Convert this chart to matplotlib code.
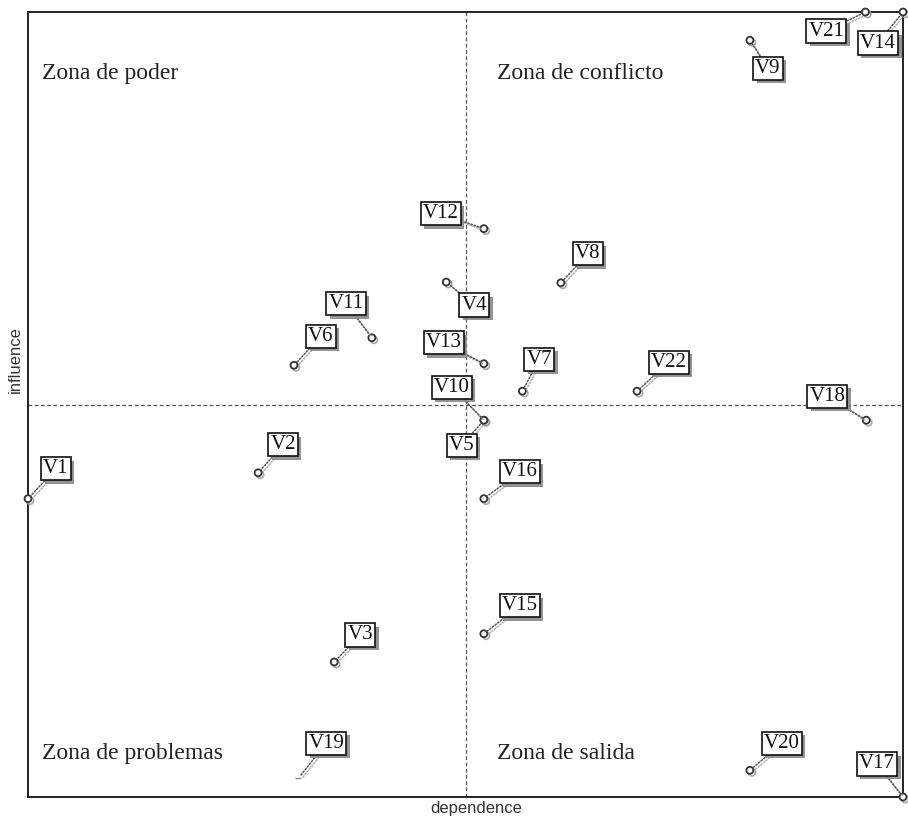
import matplotlib as mpl
import matplotlib.pyplot as plt
import matplotlib.patheffects as pe

mpl.rcParams['font.family'] = 'Liberation Serif'

# variables: dependence (x) and influence (y), scaled 0-100
labels = ["V1", "V2", "V3", "V4", "V5", "V6", "V7", "V8", "V9", "V10", "V11",
          "V12", "V13", "V14", "V15", "V16", "V17", "V18", "V19", "V20", "V21", "V22"]
dependence = [0.0, 26.3, 35.0, 47.8, 52.1, 30.4, 56.5, 60.9, 82.5, 52.1, 39.3,
              52.1, 52.1, 100.0, 52.1, 52.1, 100.0, 95.8, 30.9, 82.5, 95.7, 69.6]
influence = [38.0, 41.3, 17.2, 65.6, 48.0, 55.0, 51.7, 65.5, 96.4, 48.0, 58.5,
             72.4, 55.2, 100.0, 20.8, 38.0, 0.0, 48.0, 2.4, 3.4, 100.0, 51.7]

# label offsets from the point, in pixels (x right, y up)
offsets = [(28, 30), (25, 28), (26, 27), (28, -23), (-22, -25), (27, 29), (17, 32),
           (27, 29), (18, -28), (-32, 33), (-26, 34), (-43, 15), (-40, 21), (-25, -31),
           (36, 28), (36, 27), (-26, 33), (-39, 24), (28, 35), (32, 27), (-39, -19), (32, 29)]

zones = ["Zona de poder", "Zona de conflicto", "Zona de problemas", "Zona de salida"]

fig = plt.figure(figsize=(9.08, 8.19), dpi=100)
ax = fig.add_axes([28/908, 1-797/819, 875/908, 785/819])
ax.set_xlim(0, 100)
ax.set_ylim(0, 100)
ax.set_xticks([])
ax.set_yticks([])
for s in ax.spines.values():
    s.set_linewidth(1.4)
    s.set_color('#222222')

ax.axvline(50, color='#555555', lw=0.9, ls=(0, (3, 2)), zorder=1)
ax.axhline(50, color='#555555', lw=0.9, ls=(0, (3, 2)), zorder=1)

shadow = [pe.SimpleLineShadow(offset=(1.5, -1.5), shadow_color='#999999', alpha=0.8), pe.Normal()]

for lab, x, y, off in zip(labels, dependence, influence, offsets):
    if lab == "V19":
        # faint point in the original
        ax.plot(x, y, marker='_', color='#888888', ms=4, clip_on=False, zorder=3)
    else:
        ax.plot(x, y, marker='o', ms=5, mfc='white', mec='#333333', mew=1.3,
                clip_on=False, zorder=3, path_effects=shadow)
    t = ax.annotate(lab, (x, y), xytext=off, textcoords='offset pixels',
                    ha='center', va='center', fontsize=15, color='#111111',
                    bbox=dict(boxstyle='square,pad=0.1', fc='white', ec='#111111', lw=1.2),
                    arrowprops=dict(arrowstyle='-', ls=(0, (1, 1.2)), color='#555555', lw=1.1,
                                    shrinkA=0, shrinkB=3, path_effects=shadow),
                    annotation_clip=False, zorder=4)
    t.get_bbox_patch().set_path_effects([pe.withSimplePatchShadow(offset=(2.5, -2.5),
                                         shadow_rgbFace='#888888', alpha=0.9)])

ax.text(1.6, 92.2, zones[0], fontsize=17, ha='left', va='center', color='#222222')
ax.text(53.6, 92.2, zones[1], fontsize=17, ha='left', va='center', color='#222222')
ax.text(1.6, 5.6, zones[2], fontsize=17, ha='left', va='center', color='#222222')
ax.text(53.6, 5.6, zones[3], fontsize=17, ha='left', va='center', color='#222222')

fig.text(476/908, 1-808/819, "dependence", fontsize=12, family='Liberation Sans',
         color='#333333', ha='center', va='center')
fig.text(15/908, 1-360/819, "influence", fontsize=12, family='Liberation Sans',
         color='#333333', ha='center', va='center', rotation=90)

fig.savefig("out.png", dpi=100)
